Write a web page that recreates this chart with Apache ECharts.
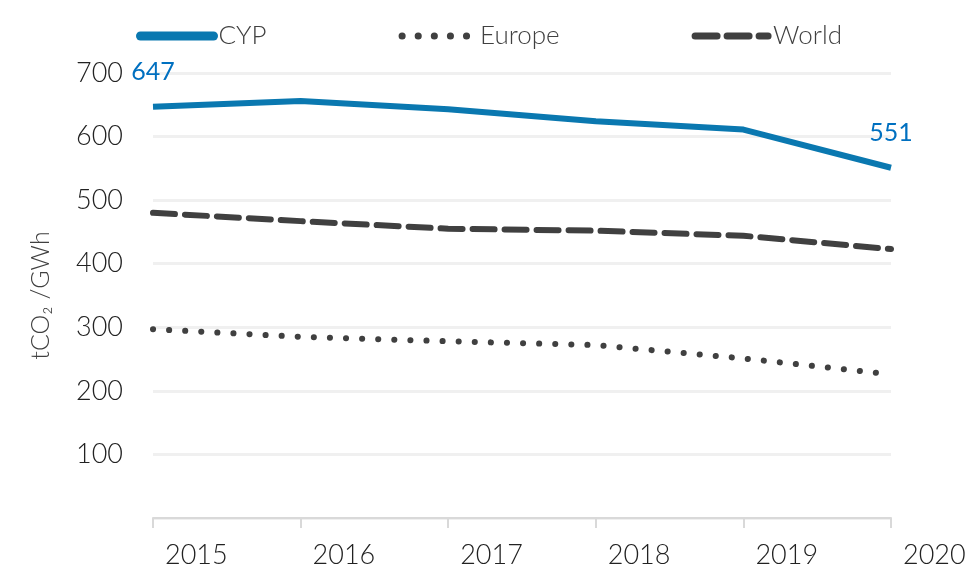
<!DOCTYPE html>
<html style="height: 100%">
<head>
    <meta charset="utf-8">
    <script src="https://cdn.jsdelivr.net/npm/echarts@6/dist/echarts.min.js"></script>
</head>
<body style="height: 100%; margin: 0; background: #fff">
<div id="container" style="width: 973px; height: 569px"></div>

<script type="text/javascript">
    var years = ['2015', '2016', '2017', '2018', '2019', '2020'];
    var cyp = [647, 656, 643, 624, 611, 551];
    var europe = [297, 285, 278, 272, 251, 226];
    var world = [480, 467, 455, 452, 444, 423];
    var yTicks = [0, 100, 200, 300, 400, 500, 600, 700];

    var font = 'Lato';
    var dom = document.getElementById("container");
    var myChart = echarts.init(dom);

    // only first and last CYP point carry a label
    var cypData = cyp.map(function (v, i) {
        var ends = (i === 0 || i === cyp.length - 1);
        return {value: v, label: {show: ends}};
    });

    var dotted = [0.1, 16];
    var dashed = [22, 10];

    var option = {
        animation: false,
        textStyle: {fontFamily: font},
        grid: {left: 153, right: 82, top: 73, bottom: 51},
        legend: {
            top: 18,
            left: 131,
            itemWidth: 73,
            itemHeight: 14,
            itemGap: 132,
            textStyle: {fontSize: 26, color: '#404040', fontFamily: font, fontWeight: 300},
            data: [
                {name: 'CYP', itemStyle: {opacity: 0},
                    lineStyle: {width: 9, color: '#0a78b0', cap: 'round'}},
                {name: 'Europe', itemStyle: {opacity: 0},
                    lineStyle: {width: 7, color: '#404040', type: dotted, cap: 'round'}},
                {name: 'World', itemStyle: {opacity: 0},
                    lineStyle: {width: 7, color: '#404040', type: dashed, cap: 'round'}}
            ]
        },
        xAxis: {
            type: 'category',
            data: years,
            boundaryGap: false,
            axisLine: {lineStyle: {color: '#d9d9d9', width: 2}},
            axisTick: {length: 10, lineStyle: {color: '#d9d9d9', width: 2}},
            axisLabel: {
                fontSize: 27, color: '#222', fontWeight: 300,
                align: 'left', padding: [0, 0, 0, 12], margin: 24
            },
            splitLine: {show: false}
        },
        yAxis: {
            type: 'value',
            min: yTicks[0],
            max: yTicks[yTicks.length - 1],
            interval: 100,
            name: 'tCO\u2082 /GWh',
            nameLocation: 'middle',
            nameGap: 100,
            nameTextStyle: {fontSize: 25, color: '#404040', fontWeight: 300},
            axisLine: {show: false},
            axisTick: {show: false},
            axisLabel: {
                fontSize: 27, color: '#222', fontWeight: 300, margin: 30,
                formatter: function (v) { return v === 0 ? '' : String(v); }
            },
            splitLine: {lineStyle: {color: '#f0f0f0', width: 3}}
        },
        series: [
            {
                name: 'CYP',
                type: 'line',
                symbol: 'circle',
                symbolSize: 0,
                showSymbol: true,
                data: cypData,
                lineStyle: {color: '#0a78b0', width: 6},
                itemStyle: {color: '#0a78b0'},
                label: {
                    position: 'top', distance: 22,
                    fontSize: 25, color: '#0070c0', fontFamily: font
                },
                z: 3
            },
            {
                name: 'Europe',
                type: 'line',
                symbol: 'none',
                data: europe,
                lineStyle: {color: '#404040', width: 6, type: dotted, cap: 'round'},
                itemStyle: {color: '#404040'}
            },
            {
                name: 'World',
                type: 'line',
                symbol: 'none',
                data: world,
                lineStyle: {color: '#404040', width: 6, type: dashed, cap: 'round'},
                itemStyle: {color: '#404040'}
            }
        ]
    };

    myChart.setOption(option, true);
</script>
</body>
</html>
